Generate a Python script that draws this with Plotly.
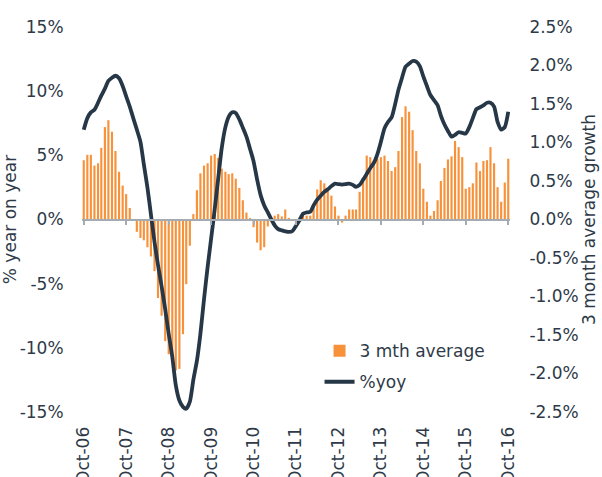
import pandas as pd
import plotly.graph_objects as go

# ---- data (monthly, Oct-06 .. Oct-16) ----
months = pd.date_range("2006-10-01", "2016-10-01", freq="MS")

# 3 month average growth (%), right axis
avg3m = [
    0.77, 0.84, 0.84, 0.70, 0.73, 0.93, 1.20, 1.29, 1.14, 0.89, 0.62, 0.44,
    0.33, 0.15, 0.00, -0.16, -0.24, -0.27, -0.36, -0.48, -0.67, -1.02, -1.25, -1.58,
    -1.75, -1.85, -1.96, -1.94, -1.49, -0.84, -0.34, 0.07, 0.38, 0.60, 0.70, 0.73,
    0.83, 0.85, 0.80, 0.66, 0.62, 0.59, 0.60, 0.53, 0.41, 0.25, 0.09, 0.02,
    -0.10, -0.30, -0.40, -0.36, -0.09, 0.00, 0.05, 0.07, 0.04, 0.13, 0.02, 0.00,
    -0.07, 0.03, 0.05, 0.05, 0.05, 0.16, 0.39, 0.51, 0.47, 0.40, 0.31, 0.17,
    0.05, -0.04, 0.05, 0.13, 0.13, 0.13, 0.36, 0.51, 0.83, 0.81, 0.77, 0.79,
    0.81, 0.83, 0.76, 0.63, 0.68, 0.89, 1.33, 1.47, 1.40, 1.16, 0.89, 0.73,
    0.40, 0.23, 0.05, 0.11, 0.25, 0.50, 0.67, 0.78, 0.82, 1.02, 0.94, 0.81,
    0.40, 0.42, 0.47, 0.74, 0.63, 0.76, 0.77, 0.94, 0.73, 0.42, 0.23, 0.48,
    0.79,
]

# % year on year, left axis
yoy = [
    7.0, 7.9, 8.35, 8.55, 9.1, 9.65, 10.2, 10.8, 11.05, 11.2, 11.0, 10.4,
    9.6, 8.8, 7.9, 7.0, 6.05, 4.3, 2.5, 0.4, -1.75, -3.55, -5.2, -7.0,
    -8.9, -10.7, -12.9, -14.1, -14.6, -14.75, -14.2, -12.5, -11.0, -8.9, -6.2, -3.7,
    -1.5, 0.8, 3.2, 5.6, 7.2, 8.0, 8.35, 8.3, 7.8, 7.15, 6.45, 5.5,
    4.55, 3.1, 1.9, 1.1, 0.55, 0.05, -0.45, -0.75, -0.85, -0.92, -0.97, -0.9,
    -0.5, -0.06, 0.45, 0.55, 0.6, 1.1, 1.55, 1.85, 2.15, 2.35, 2.6, 2.8,
    2.75, 2.72, 2.75, 2.8, 2.7, 2.55, 2.7, 3.1, 3.55, 4.0, 4.4, 5.1,
    6.05, 7.1, 7.6, 7.95, 9.0, 10.1, 11.05, 11.9, 12.15, 12.35, 12.3, 11.95,
    11.15, 10.4, 9.7, 9.3, 8.9, 8.1, 7.4, 6.9, 6.45, 6.6, 6.8, 6.75,
    6.7, 7.2, 7.9, 8.6, 8.75, 8.9, 9.1, 9.1, 8.8, 7.6, 7.0, 7.2,
    8.4,
]

tick_dates = pd.date_range("2006-10-01", "2016-10-01", freq="12MS")
tick_labels = ["Oct-06", "Oct-07", "Oct-08", "Oct-09", "Oct-10", "Oct-11",
               "Oct-12", "Oct-13", "Oct-14", "Oct-15", "Oct-16"]

left_ticks = [-15, -10, -5, 0, 5, 10, 15]
left_tick_labels = ["-15%", "-10%", "-5%", "0%", "5%", "10%", "15%"]
right_ticks = [-2.5, -2.0, -1.5, -1.0, -0.5, 0.0, 0.5, 1.0, 1.5, 2.0, 2.5]
right_tick_labels = ["-2.5%", "-2.0%", "-1.5%", "-1.0%", "-0.5%", "0.0%",
                     "0.5%", "1.0%", "1.5%", "2.0%", "2.5%"]

ORANGE = "#F7913A"
NAVY = "#263747"
TEXT = "#2E3A48"
AXIS = "#A5ABB3"
FONT = "DejaVu Sans"

xrange = ["2006-09-16", "2016-10-16"]

fig = go.Figure()
fig.add_trace(go.Bar(
    x=months, y=avg3m, name="3 mth average",
    marker=dict(color=ORANGE, line=dict(width=0)),
    xaxis="x", yaxis="y", legendgroup="a",
))
fig.add_trace(go.Scatter(
    x=months, y=yoy, name="%yoy", mode="lines",
    line=dict(color=NAVY, width=3.8, shape="spline", smoothing=0.6),
    xaxis="x", yaxis="y2", legendgroup="b",
))

fig.update_layout(
    width=602, height=477,
    margin=dict(l=82, r=92, t=27, b=65, autoexpand=False),
    paper_bgcolor="white", plot_bgcolor="white",
    font=dict(family=FONT, size=17, color=TEXT),
    bargap=0.34,
    showlegend=True,
    legend=dict(
        x=0.555, y=0.205, xanchor="left", yanchor="top",
        bgcolor="rgba(0,0,0,0)", font=dict(size=17, color=TEXT),
        traceorder="grouped", tracegroupgap=6,
    ),
    xaxis=dict(
        type="date", range=xrange,
        tickvals=tick_dates, ticktext=tick_labels, tickangle=-90,
        showline=False, showgrid=False, zeroline=False,
        ticks="outside", ticklen=7, tickcolor="rgba(0,0,0,0)",
        tickfont=dict(size=17, color=TEXT), automargin=False,
    ),
    xaxis2=dict(
        type="date", range=xrange, overlaying="x", anchor="free", position=0.5,
        side="bottom", tickvals=tick_dates, showticklabels=False,
        showline=True, linecolor=AXIS, linewidth=1.5,
        ticks="outside", ticklen=5, tickwidth=1.5, tickcolor=AXIS,
        showgrid=False, zeroline=False,
    ),
    yaxis=dict(
        side="right", range=[-2.5, 2.5],
        tickvals=right_ticks, ticktext=right_tick_labels,
        showgrid=False, zeroline=False, showline=False,
        ticks="outside", ticklen=15, tickcolor="rgba(0,0,0,0)",
        title=dict(text="3 month average growth", font=dict(size=17, color=TEXT), standoff=4),
        automargin=False,
    ),
    yaxis2=dict(
        side="left", overlaying="y", range=[-15, 15],
        tickvals=left_ticks, ticktext=left_tick_labels,
        showgrid=False, zeroline=False, showline=False,
        ticks="outside", ticklen=14, tickcolor="rgba(0,0,0,0)",
        title=dict(text="% year on year", font=dict(size=17, color=TEXT), standoff=0),
        automargin=False,
    ),
)

# invisible helper trace so the zero-axis (xaxis2) is rendered
fig.add_trace(go.Scatter(x=[months[0]], y=[0], xaxis="x2", yaxis="y",
                         mode="markers", marker=dict(opacity=0), showlegend=False,
                         hoverinfo="skip"))

fig.write_html(
    "out.html",
    config={"displayModeBar": False},
    post_script="document.body.style.margin='0px';document.body.style.overflow='hidden';",
)
